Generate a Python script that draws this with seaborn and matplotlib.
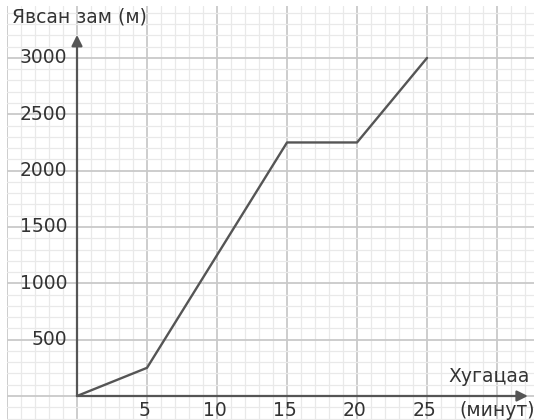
import seaborn as sns
import matplotlib.pyplot as plt
import numpy as np

# data
minutes = [0, 5, 15, 20, 25]
distance = [0, 250, 2250, 2250, 3000]

x_ticks = [5, 10, 15, 20, 25]
y_ticks = [500, 1000, 1500, 2000, 2500, 3000]

y_label = "Явсан зам (м)"
x_label = "Хугацаа"
x_unit = "(минут)"

sns.set_style("white")
plt.rcParams["font.family"] = ["DejaVu Sans"]

fig = plt.figure(figsize=(5.34, 4.2), dpi=100)
ax = fig.add_axes([7 / 534, 0, 1 - 7 / 534, 1 - 6 / 420])

# grid paper
ax.set_xlim(-5, 32.64)
ax.set_ylim(-213, 3461)
ax.set_xticks(np.arange(-5, 33, 5))
ax.set_xticks(np.arange(-5, 33, 1), minor=True)
ax.set_yticks(np.arange(0, 3500, 500))
ax.set_yticks(np.arange(-200, 3500, 100), minor=True)
ax.grid(which="major", color="#c9c9c9", linewidth=1.3)
ax.grid(which="minor", color="#e9e9e9", linewidth=0.9)
ax.tick_params(which="both", length=0, labelbottom=False, labelleft=False)
for s in ax.spines.values():
    s.set_visible(False)

axis_col = "#555555"
arrow = dict(arrowstyle="-|>", color=axis_col, lw=1.6, mutation_scale=16,
             shrinkA=0, shrinkB=0)
ax.annotate("", xy=(0, 3204), xytext=(0, 0), arrowprops=arrow)
ax.annotate("", xy=(32.2, 0), xytext=(0, 0), arrowprops=arrow)

sns.lineplot(x=minutes, y=distance, color=axis_col, linewidth=1.7, ax=ax)

txt = "#333333"
fs = 13.5
for v in x_ticks:
    ax.text(v - 0.15, -125, str(v), ha="center", va="center", fontsize=fs, color=txt)
for v in y_ticks:
    ax.text(-0.7, v, str(v), ha="right", va="center", fontsize=fs, color=txt)

fig.text(12 / 534, 1 - 17 / 420, y_label, ha="left", va="center", fontsize=fs, color=txt)
fig.text(489 / 534, 1 - 377 / 420, x_label, ha="center", va="center", fontsize=fs, color=txt)
fig.text(497 / 534, 1 - 410 / 420, x_unit, ha="center", va="center", fontsize=fs, color=txt)

fig.savefig("out.png", dpi=100)
